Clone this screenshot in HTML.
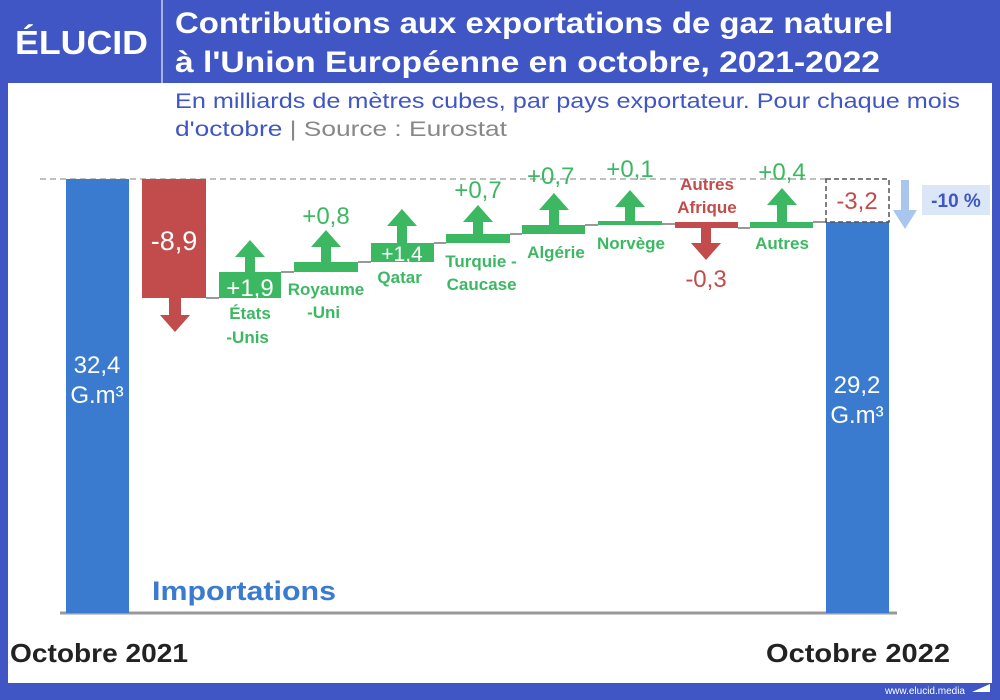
<!DOCTYPE html>
<html><head><meta charset="utf-8"><style>
body{margin:0;width:1000px;height:700px;overflow:hidden;background:#fff}
svg{display:block;font-family:"Liberation Sans",sans-serif}
</style></head><body>
<svg width="1000" height="700" viewBox="0 0 1000 700">
<rect x="0" y="0" width="1000" height="700" fill="#3f56c4"/>
<rect x="8" y="83" width="984" height="600" fill="#fff"/>
<line x1="162" y1="0" x2="162" y2="83" stroke="#c8d0f0" stroke-width="1.5"/>
<text x="15" y="54" fill="#fff" font-size="33" font-weight="bold" textLength="133" lengthAdjust="spacingAndGlyphs">ÉLUCID</text>
<text x="175" y="33" fill="#fff" font-size="30" font-weight="bold" textLength="718" lengthAdjust="spacingAndGlyphs">Contributions aux exportations de gaz naturel</text>
<text x="175" y="72" fill="#fff" font-size="30" font-weight="bold" textLength="705" lengthAdjust="spacingAndGlyphs">à l'Union Européenne en octobre, 2021-2022</text>
<text x="175" y="108" fill="#3f56c4" font-size="21" textLength="785" lengthAdjust="spacingAndGlyphs">En milliards de mètres cubes, par pays exportateur. Pour chaque mois</text>
<text x="175" y="136" font-size="21" textLength="332" lengthAdjust="spacingAndGlyphs"><tspan fill="#3f56c4">d'octobre</tspan><tspan fill="#888">  |  Source : Eurostat</tspan></text>
<text x="965" y="694" fill="#fff" font-size="10" text-anchor="end">www.elucid.media</text>
<polygon points="972,692 990,684 990,692" fill="#fff"/>

<line x1="40" y1="179" x2="830" y2="179" stroke="#aaa" stroke-width="1.5" stroke-dasharray="6,4"/>
<line x1="60" y1="613" x2="897" y2="613" stroke="#999" stroke-width="3"/>
<g stroke="#999" stroke-width="2">
<line x1="206" y1="298" x2="219" y2="298"/><line x1="281" y1="272" x2="294" y2="272"/>
<line x1="358" y1="262" x2="371" y2="262"/><line x1="434" y1="243" x2="446" y2="243"/>
<line x1="510" y1="234" x2="522" y2="234"/><line x1="585" y1="225" x2="598" y2="225"/>
<line x1="662" y1="224" x2="675" y2="224"/><line x1="738" y1="228" x2="750" y2="228"/>
<line x1="813" y1="222" x2="826" y2="222"/></g>

<rect x="66" y="179" width="63" height="434" fill="#3a7bd0"/>
<text x="97" y="373" fill="#fff" font-size="24" text-anchor="middle">32,4</text>
<text x="97" y="403" fill="#fff" font-size="24" text-anchor="middle">G.m³</text>

<rect x="142" y="179" width="64" height="119" fill="#c24b4b"/>
<text x="174" y="250" fill="#fff" font-size="27" text-anchor="middle">-8,9</text>
<polygon points="169,298 181,298 181,315 190,315 175,332 160,315 169,315" fill="#c24b4b"/>

<g fill="#3cb863">
<rect x="219" y="272" width="62" height="26"/>
<polygon points="245,272 255,272 255,257 265,257 250,240 235,257 245,257"/>
<rect x="294" y="262" width="64" height="10"/>
<polygon points="321,262 331,262 331,247 341,247 326,230 311,247 321,247"/>
<rect x="371" y="243" width="63" height="19"/>
<polygon points="397,243 407,243 407,226 417,226 402,209 387,226 397,226"/>
<rect x="446" y="234" width="64" height="9"/>
<polygon points="473,234 483,234 483,222 493,222 478,205 463,222 473,222"/>
<rect x="522" y="225" width="63" height="9"/>
<polygon points="549,225 559,225 559,210 569,210 554,193 539,210 549,210"/>
<rect x="598" y="221" width="64" height="4"/>
<polygon points="625,221 635,221 635,207 645,207 630,190 615,207 625,207"/>
<rect x="750" y="222" width="63" height="6"/>
<polygon points="777,222 787,222 787,205 797,205 782,188 767,205 777,205"/>
<text font-size="24" text-anchor="middle" fill="#3cb863">
<tspan x="326" y="224">+0,8</tspan><tspan x="478" y="198">+0,7</tspan><tspan x="554" y="184">+0,7</tspan>
<tspan x="630" y="177">+0,1</tspan><tspan x="782" y="180">+0,4</tspan></text>
<text font-size="17" font-weight="bold" text-anchor="middle" fill="#3cb863">
<tspan x="250" y="319">États</tspan><tspan x="250" y="343">-Unis</tspan>
<tspan x="326" y="295">Royaume</tspan><tspan x="326" y="318">-Uni</tspan>
<tspan x="402" y="283">Qatar</tspan>
<tspan x="481" y="267">Turquie -</tspan><tspan x="484" y="290">Caucase</tspan>
<tspan x="556" y="258">Algérie</tspan><tspan x="631" y="249">Norvège</tspan><tspan x="782" y="249">Autres</tspan></text>
</g>
<text x="250" y="296" fill="#fff" font-size="24" text-anchor="middle">+1,9</text>
<text x="402" y="261" fill="#fff" font-size="21" text-anchor="middle">+1,4</text>

<rect x="675" y="222" width="63" height="6" fill="#c24b4b"/>
<polygon points="701,228 711,228 711,243 721,243 706,260 691,243 701,243" fill="#c24b4b"/>
<text font-size="17" font-weight="bold" text-anchor="middle" fill="#c24b4b"><tspan x="707" y="190">Autres</tspan><tspan x="707" y="213">Afrique</tspan></text>
<text x="706" y="287" font-size="24" text-anchor="middle" fill="#c24b4b">-0,3</text>

<rect x="826" y="222" width="63" height="391" fill="#3a7bd0"/>
<rect x="826" y="179" width="63" height="43" fill="none" stroke="#555" stroke-width="1.5" stroke-dasharray="5,3"/>
<text x="857" y="209" font-size="24" text-anchor="middle" fill="#c24b4b">-3,2</text>
<text x="857" y="393" fill="#fff" font-size="24" text-anchor="middle">29,2</text>
<text x="857" y="423" fill="#fff" font-size="24" text-anchor="middle">G.m³</text>
<polygon points="901,180 909,180 909,210 917,210 905,229 893,210 901,210" fill="#a9c7ec"/>
<rect x="922" y="185" width="68" height="30" fill="#dbe6f6"/>
<text x="956" y="207" font-size="19" font-weight="bold" text-anchor="middle" fill="#3f56c4">-10 %</text>

<text x="152" y="600" font-size="27" font-weight="bold" fill="#3a7bd0" textLength="184" lengthAdjust="spacingAndGlyphs">Importations</text>
<text x="10" y="662" font-size="26" font-weight="bold" fill="#222" textLength="178" lengthAdjust="spacingAndGlyphs">Octobre 2021</text>
<text x="766" y="662" font-size="26" font-weight="bold" fill="#222" textLength="184" lengthAdjust="spacingAndGlyphs">Octobre 2022</text>
</svg>
</body></html>
